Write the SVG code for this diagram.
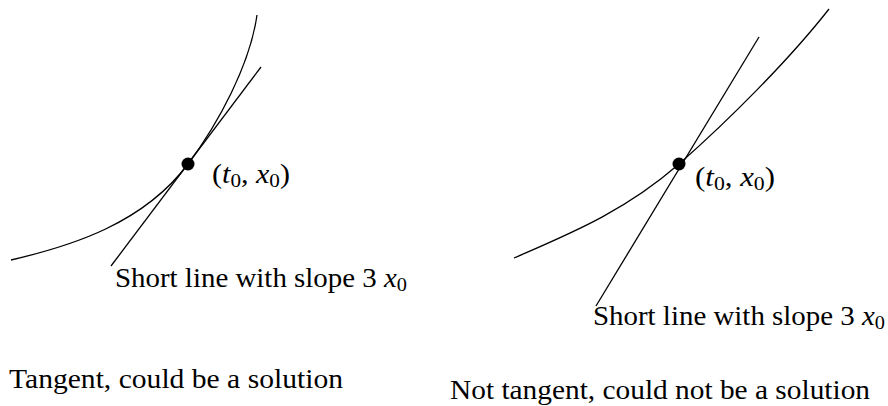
<svg xmlns="http://www.w3.org/2000/svg" width="888" height="406" viewBox="0 0 888 406">
<style>
.c{fill:none;stroke:#000;stroke-width:1.3}
.t{font-family:"Liberation Serif","DejaVu Serif",serif;font-size:27px;fill:#000}
.m{font-style:italic}
.s{font-size:19px}
</style>
<rect width="888" height="406" fill="#fff"/>
<g id="connectors">
<path id="curveL" class="c" d="M11,260 C71,246 143,224 188,164 C218,124 250,65 257,15"/>
<line id="lineL" class="c" x1="111" y1="266" x2="261" y2="67"/>
<path id="curveR" class="c" d="M514,258 C569,234 624,212 679,164 C729,120 789,60 829,9"/>
<line id="lineR" class="c" x1="596" y1="306" x2="759" y2="37"/>
</g>
<g id="pointL">
<circle cx="188" cy="164" r="6.5" fill="#000"/>
<text class="t" x="212" y="183" textLength="78" lengthAdjust="spacingAndGlyphs">(<tspan class="m">t</tspan><tspan class="s" dy="4">0</tspan><tspan dy="-4">, </tspan><tspan class="m">x</tspan><tspan class="s" dy="4">0</tspan><tspan dy="-4">)</tspan></text>
</g>
<g id="pointR">
<circle cx="679" cy="164" r="6.5" fill="#000"/>
<text class="t" x="695" y="186" textLength="80" lengthAdjust="spacingAndGlyphs">(<tspan class="m">t</tspan><tspan class="s" dy="4">0</tspan><tspan dy="-4">, </tspan><tspan class="m">x</tspan><tspan class="s" dy="4">0</tspan><tspan dy="-4">)</tspan></text>
</g>
<g id="labelL">
<text class="t" x="115" y="287" textLength="292" lengthAdjust="spacingAndGlyphs">Short line with slope 3 <tspan class="m">x</tspan><tspan class="s" dy="4">0</tspan></text>
</g>
<g id="labelR">
<text class="t" x="593" y="325" textLength="292" lengthAdjust="spacingAndGlyphs">Short line with slope 3 <tspan class="m">x</tspan><tspan class="s" dy="4">0</tspan></text>
</g>
<g id="captionL">
<text class="t" x="9" y="388" textLength="334" lengthAdjust="spacingAndGlyphs">Tangent, could be a solution</text>
</g>
<g id="captionR">
<text class="t" x="450" y="399" textLength="420" lengthAdjust="spacingAndGlyphs">Not tangent, could not be a solution</text>
</g>
</svg>
